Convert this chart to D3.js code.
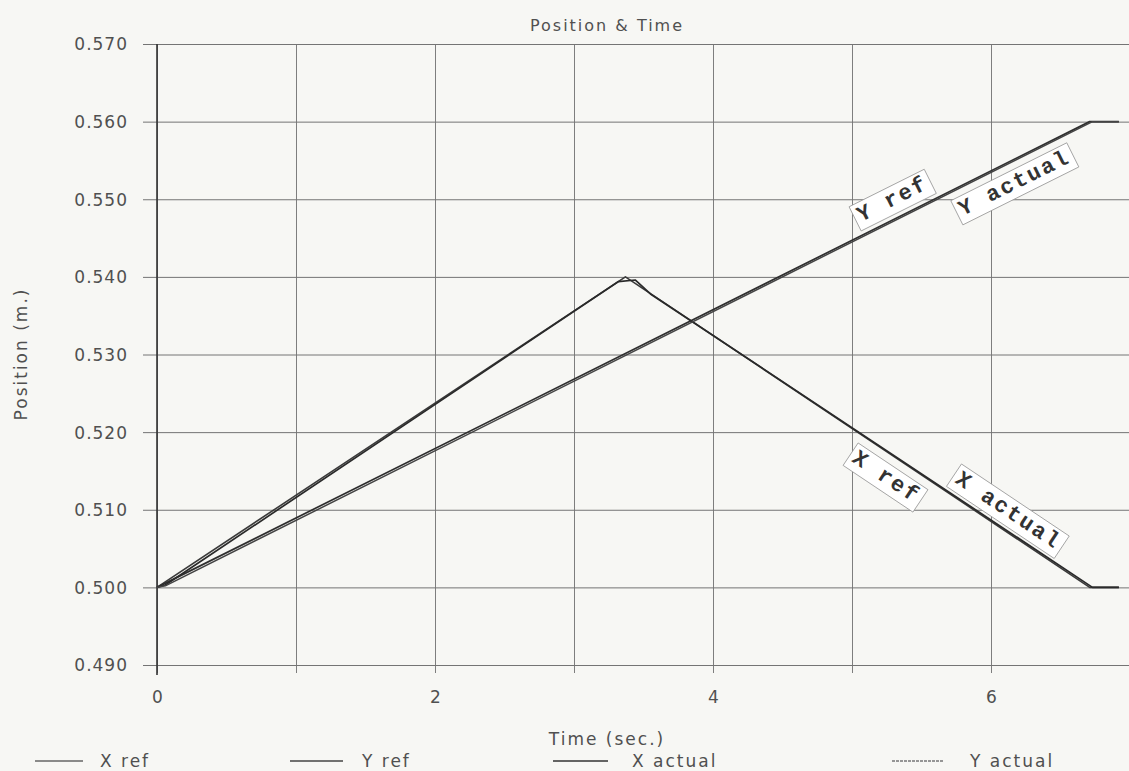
<!DOCTYPE html>
<html><head><meta charset="utf-8">
<script src="https://cdn.jsdelivr.net/npm/d3@7"></script>
<style>
body{margin:0;background:#f7f7f4;}
svg{display:block;}
.lbl{font-family:"DejaVu Sans",sans-serif;fill:#505050;}
</style></head>
<body><svg id="c" width="1129" height="771"></svg>
<script>
// ---------- data ----------
const seriesNames = ["X ref", "Y ref", "X actual", "Y actual"];
const xRefTime = [0, 3.37, 6.71, 6.92];
const xRefPos  = [0.500, 0.540, 0.500, 0.500];
const yRefTime = [0, 6.71, 6.92];
const yRefPos  = [0.500, 0.560, 0.560];
const xActTime = [0, 0.06, 3.32, 3.44, 3.55, 6.73, 6.92];
const xActPos  = [0.500, 0.5003, 0.5394, 0.5396, 0.5378, 0.500, 0.500];
const yActTime = [0, 0.06, 6.73, 6.92];
const yActPos  = [0.500, 0.5002, 0.560, 0.560];
const xTickValues = [0, 1, 2, 3, 4, 5, 6, 7];
const xTickLabels = ["0", "", "2", "", "4", "", "6", ""];
const yTickValues = [0.49, 0.50, 0.51, 0.52, 0.53, 0.54, 0.55, 0.56, 0.57];
const yTickLabels = ["0.490", "0.500", "0.510", "0.520", "0.530", "0.540", "0.550", "0.560", "0.570"];
const noteTexts  = ["Y ref", "Y actual", "X ref", "X actual"];
const noteSeries = [1, 1, 0, 0];
const noteTimes  = [5.35, 6.10, 5.33, 6.05];
const noteSides  = [-1, 1, 1, -1];
const titleText = "Position & Time";
const xTitle = "Time (sec.)";
const yTitle = "Position (m.)";

// ---------- layout ----------
const L = 157, R = 1130, T = 44, B = 665;
const svg = d3.select("#c");
const x = d3.scaleLinear().domain([0, 7]).range([L, R]);
const y = d3.scaleLinear().domain([0.49, 0.57]).range([B, T]);

// grid (vertical)
const gx = svg.append("g").attr("transform", `translate(0,${B})`)
  .call(d3.axisBottom(x).tickValues(xTickValues).tickSize(-(B - T)).tickSizeOuter(0).tickFormat(""));
gx.select(".domain").remove();
gx.selectAll("line").attr("stroke", "#7e7e7e").attr("stroke-width", 1).attr("y1", 8);

// grid (horizontal)
const gy = svg.append("g").attr("transform", `translate(${L},0)`)
  .call(d3.axisLeft(y).tickValues(yTickValues).tickSize(14).tickFormat((d, i) => yTickLabels[i]));
gy.select(".domain").remove();
gy.selectAll(".tick line").attr("x1", -14).attr("x2", R - L).attr("stroke", "#747474").attr("stroke-width", 1);
gy.selectAll(".tick text").attr("class", "lbl").attr("x", -29).attr("dy", "0.35em")
  .style("font-size", "17px").style("letter-spacing", "1px").attr("fill", "#505050");

// x tick labels
const gxl = svg.append("g").attr("transform", `translate(0,${B})`)
  .call(d3.axisBottom(x).tickValues(xTickValues).tickSize(0).tickFormat((d, i) => xTickLabels[i]));
gxl.select(".domain").remove();
gxl.selectAll("text").attr("class", "lbl").attr("y", 26).attr("dy", "0.71em")
  .style("font-size", "17px").attr("fill", "#505050");

// left axis line
svg.append("line").attr("x1", L).attr("x2", L).attr("y1", T).attr("y2", B + 10)
  .attr("stroke", "#333").attr("stroke-width", 1.6);

// titles
svg.append("text").attr("class", "lbl").attr("x", 607).attr("y", 31).attr("text-anchor", "middle")
  .style("font-size", "16px").style("letter-spacing", "2px").text(titleText);
svg.append("text").attr("class", "lbl").attr("x", 607).attr("y", 745).attr("text-anchor", "middle")
  .style("font-size", "17px").style("letter-spacing", "2px").text(xTitle);
svg.append("text").attr("class", "lbl").attr("transform", `translate(27,354) rotate(-90)`)
  .attr("text-anchor", "middle").style("font-size", "17px").style("letter-spacing", "2px").text(yTitle);

// series
const series = [
  {t: xRefTime, v: xRefPos, c: "#3a3a3a", w: 1.6},
  {t: yRefTime, v: yRefPos, c: "#2e2e2e", w: 1.7},
  {t: xActTime, v: xActPos, c: "#2a2a2a", w: 1.7},
  {t: yActTime, v: yActPos, c: "#444", w: 1.5}
];
const line = d3.line().x(d => x(d[0])).y(d => y(d[1]));
series.forEach(s => {
  svg.append("path").datum(s.t.map((t, i) => [t, s.v[i]]))
    .attr("d", line).attr("fill", "none").attr("stroke", s.c).attr("stroke-width", s.w)
    .attr("stroke-linejoin", "round");
});

// annotations along lines
function interp(s, t) {
  for (let i = 0; i < s.t.length - 1; i++) {
    if (t >= s.t[i] && t <= s.t[i + 1]) {
      const f = (t - s.t[i]) / (s.t[i + 1] - s.t[i]);
      return {v: s.v[i] + f * (s.v[i + 1] - s.v[i]),
              ang: Math.atan2(y(s.v[i + 1]) - y(s.v[i]), x(s.t[i + 1]) - x(s.t[i]))};
    }
  }
}
noteTexts.forEach((txt, k) => {
  const s = series[noteSeries[k]];
  const p = interp(s, noteTimes[k]);
  const px = x(noteTimes[k]), py = y(p.v);
  const off = 20 * noteSides[k];
  const nx = -Math.sin(p.ang), ny = Math.cos(p.ang);
  const cx = px + nx * off, cy = py + ny * off;
  const g = svg.append("g").attr("transform", `translate(${cx},${cy}) rotate(${p.ang * 180 / Math.PI})`);
  const rect = g.append("rect").attr("fill", "#fff").attr("stroke", "#9a9a9a").attr("stroke-width", 0.8);
  const te = g.append("text").attr("text-anchor", "middle").attr("dy", "0.35em")
    .style("font-family", "'Liberation Mono', monospace").style("font-weight", "bold")
    .style("font-size", "22px").style("letter-spacing", "2px").attr("fill", "#333").text(txt);
  const bb = te.node().getBBox();
  rect.attr("x", bb.x - 4).attr("y", bb.y - 1).attr("width", bb.width + 8).attr("height", bb.height + 2);
});

// legend
const legX1 = [35, 290, 553, 892], legX2 = [83, 343, 608, 943], legTx = [100, 362, 632, 970];
const legStyle = [{c: "#666", d: null}, {c: "#444", d: null}, {c: "#333", d: null}, {c: "#777", d: "3,1"}];
seriesNames.forEach((n, i) => {
  svg.append("line").attr("x1", legX1[i]).attr("x2", legX2[i]).attr("y1", 761).attr("y2", 761)
    .attr("stroke", legStyle[i].c).attr("stroke-width", 1.3).attr("stroke-dasharray", legStyle[i].d);
  svg.append("text").attr("class", "lbl").attr("x", legTx[i]).attr("y", 761).attr("dy", "0.35em")
    .style("font-size", "17px").style("letter-spacing", "2px").text(n);
});
</script></body></html>
